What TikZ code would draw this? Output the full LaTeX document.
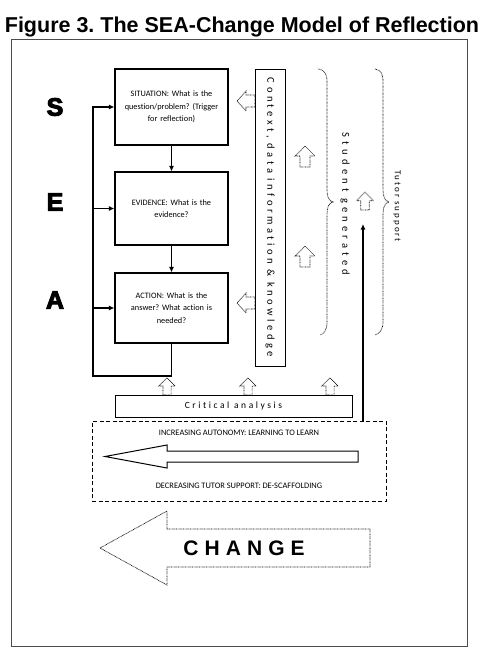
\documentclass[tikz,border=0pt]{standalone}
\usepackage{fontspec}
\setmainfont{Carlito}[Ligatures=NoCommon]
\newfontfamily\lsans{Liberation Sans}
\newfontfamily\heavy{Liberation Sans}[BoldFeatures={FakeBold=4}]
\usetikzlibrary{arrows.meta}
\frenchspacing
\begin{document}
\begin{tikzpicture}[x=1pt,y=-1pt,
  box/.style={draw, line width=1.1pt, minimum width=113pt, align=center, text width=108pt, inner sep=0pt, font=\fontsize{8.3}{12.5}\selectfont},
  dotl/.style={draw, line width=0.7pt, dash pattern=on 0.7pt off 0.7pt},
  arr/.style={-{Latex[length=5.5pt,width=5pt]}, line width=1.1pt},
  bigletter/.style={font=\heavy\bfseries\fontsize{25}{25}\selectfont},
  vlabel/.style={rotate=-90, inner sep=0pt},
  uparr/.pic={\draw[dotl] (-5,0) -- (-5,-11) -- (-10,-11) -- (0,-21) -- (10,-11) -- (5,-11) -- (5,0) -- cycle;},
  leftarr/.pic={\draw[dotl] (0,-6) -- (-9,-6) -- (-9,-10) -- (-18,0) -- (-9,10) -- (-9,6) -- (0,6) -- cycle;}
]
\useasboundingbox (0,0) rectangle (484,670);
\clip (0,0) rectangle (484,670);
\fill[white] (0,0) rectangle (484,670);

% title and frame
\node[font=\lsans\bfseries\fontsize{21.5}{26}\selectfont, inner sep=0pt] (title) at (242,27) {Figure 3. The SEA-Change Model of Reflection};
\draw[line width=1pt, black!70] (11,39) rectangle (467,646);

% S E A
\node[bigletter] (S) at (55,107) {S};
\node[bigletter] (E) at (55,202) {E};
\node[bigletter] (A) at (55,300) {A};

% boxes
\node[box, minimum height=76pt] (sit) at (171.5,107) {SITUATION: What is the\\ question/problem? (Trigger\\ for reflection)};
\node[box, minimum height=73pt] (evi) at (171.5,208.5) {EVIDENCE: What is the\\ evidence?};
\node[box, minimum height=70pt] (act) at (171.5,308) {ACTION: What is the\\ answer? What action is\\ needed?};

\draw[arr] (sit) -- (evi);
\draw[arr] (evi) -- (act);
\coordinate (loopL) at (93,376);
\draw[arr] (act.south) |- (loopL) |- (sit.west);
\draw[arr] (loopL |- evi.west) -- (evi.west);
\draw[arr] (loopL |- act.west) -- (act.west);

% context box
\node[draw, line width=0.9pt, minimum width=30pt, minimum height=297pt] (ctx) at (270,217.5) {};
\node[vlabel, font=\fontsize{10.5}{13}\selectfont\addfontfeature{LetterSpace=33}] (ctxt) at (ctx.center) {Context, data information \& knowledge};

\pic at (255,101) {leftarr};
\pic at (255,303) {leftarr};
\pic at (305,167) {uparr};
\pic at (305,267) {uparr};
\pic[scale=0.85] at (365,210) {uparr};

% braces
\draw[dotl] (318,69) .. controls (325,70) and (327,74) .. (327,82) -- (327,190)
  .. controls (327,197) and (329,201) .. (333,202) .. controls (329,203) and (327,207) .. (327,214)
  -- (327,322) .. controls (327,330) and (324,334) .. (320,335);
\draw[dotl] (375,69) .. controls (381,70) and (383,74) .. (383,82) -- (383,190)
  .. controls (383,197) and (385,201) .. (389,202) .. controls (385,203) and (383,207) .. (383,214)
  -- (383,322) .. controls (383,330) and (379,334) .. (375,335);
\node[vlabel, font=\fontsize{10.5}{12}\selectfont\addfontfeature{LetterSpace=40}] (stud) at (345,204) {Student generated};
\node[vlabel, font=\fontsize{9}{11}\selectfont\addfontfeature{LetterSpace=22}] (tut) at (397,206) {Tutor support};

% critical analysis
\node[draw, line width=0.9pt, minimum width=237pt, minimum height=22pt, font=\fontsize{9.5}{11}\selectfont\addfontfeature{LetterSpace=27}] (crit) at (233.5,406) {Critical analysis};
\pic[scale=0.82] at (167,395) {uparr};
\pic[scale=0.82] at (248,395) {uparr};
\pic[scale=0.82] at (330,395) {uparr};

% autonomy box
\node[draw, line width=0.9pt, dash pattern=on 4pt off 2.5pt, minimum width=294pt, minimum height=80pt] (auto) at (239,461) {};
\node[font=\fontsize{8.4}{10}\selectfont] (inc) at (239,433) {INCREASING AUTONOMY: LEARNING TO LEARN};
\node[font=\fontsize{8.4}{10}\selectfont] (dec) at (239,486) {DECREASING TUTOR SUPPORT: DE-SCAFFOLDING};
\draw[line width=1pt] (358,451) -- (167,451) -- (167,445) -- (105,456.5) -- (167,468) -- (167,462) -- (358,462) -- cycle;

\coordinate (tstip) at (363,224);
\draw[arr] (auto.north -| tstip) -- (tstip);

% change arrow
\draw[dotl] (370,529) -- (167,529) -- (167,511) -- (100,548) -- (167,585) -- (167,567) -- (370,567) -- cycle;
\node[font=\lsans\bfseries\fontsize{21}{24}\selectfont\addfontfeature{LetterSpace=29}] (chg) at (244,548) {CHANGE};
\end{tikzpicture}
\end{document}
